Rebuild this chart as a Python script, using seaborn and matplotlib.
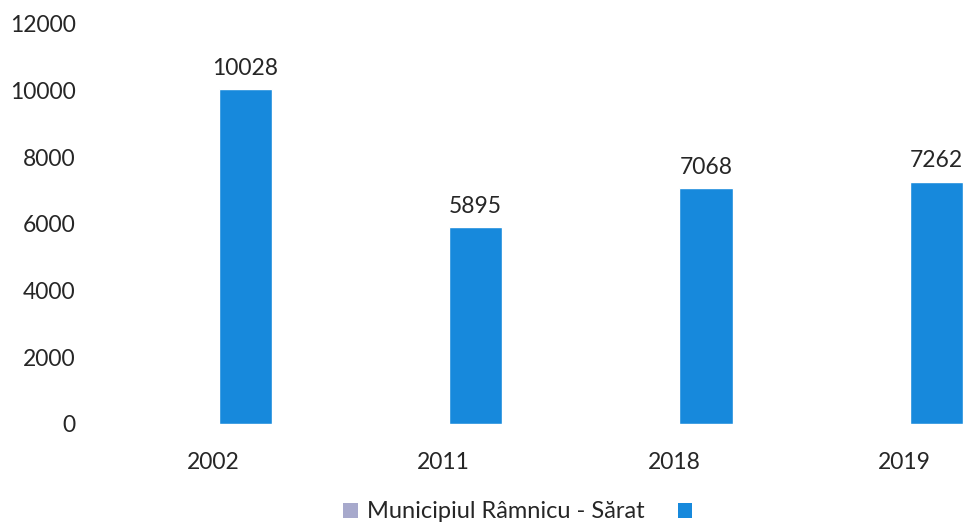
import pandas as pd
import matplotlib
matplotlib.use("Agg")
import matplotlib.pyplot as plt
import seaborn as sns
from matplotlib.patches import Patch

years = ["2002", "2011", "2018", "2019"]
grey_series = [0, 0, 0, 0]          # first series is empty in the source chart
values = [10028, 5895, 7068, 7262]
series_labels = ["Municipiul Râmnicu - Sărat", ""]

bar_color = "#1789dc"
legend_grey = "#a7a9cc"
text_color = "#262626"

df = pd.DataFrame({
    "an": years * 2,
    "serie": ["a"] * 4 + ["b"] * 4,
    "populatie": grey_series + values,
})

sns.set_style("white")
plt.rcParams["font.family"] = ["Lato", "DejaVu Sans"]

fig = plt.figure(figsize=(9.69, 5.24), dpi=100)
# category 0 at ~213px, step ~230px
ax = fig.add_axes([98 / 969, 100 / 524, 1 - 98 / 969, 400.5 / 524])

sns.barplot(data=df, x="an", y="populatie", hue="serie", hue_order=["a", "b"],
            palette=[legend_grey, bar_color], width=0.556, gap=0.17,
            saturation=1, legend=False, ax=ax)

ax.bar_label(ax.containers[1], labels=[str(v) for v in values], padding=7.5,
             fontsize=16.5, color=text_color)

ax.set_ylim(0, 12000)
ax.set_xlim(-0.5, (969 - 213.5) / 230.3)
ax.set_yticks(range(0, 12001, 2000))
ax.set_xlabel("")
ax.set_ylabel("")
ax.tick_params(axis="y", pad=16, length=0, labelsize=16.5, labelcolor=text_color)
ax.tick_params(axis="x", pad=20, length=0, labelsize=16.5, labelcolor=text_color)
sns.despine(ax=ax, left=True, bottom=True, top=True, right=True)

handles = [Patch(facecolor=legend_grey, edgecolor="none"),
           Patch(facecolor=bar_color, edgecolor="none")]
fig.legend(handles, series_labels, loc="center", ncol=2, frameon=False,
           fontsize=17, bbox_to_anchor=(0.539, 1 - 512 / 524), handlelength=0.6,
           handleheight=0.6, columnspacing=1.4, handletextpad=0.4,
           labelcolor=text_color)

fig.savefig("out.png", dpi=100)
